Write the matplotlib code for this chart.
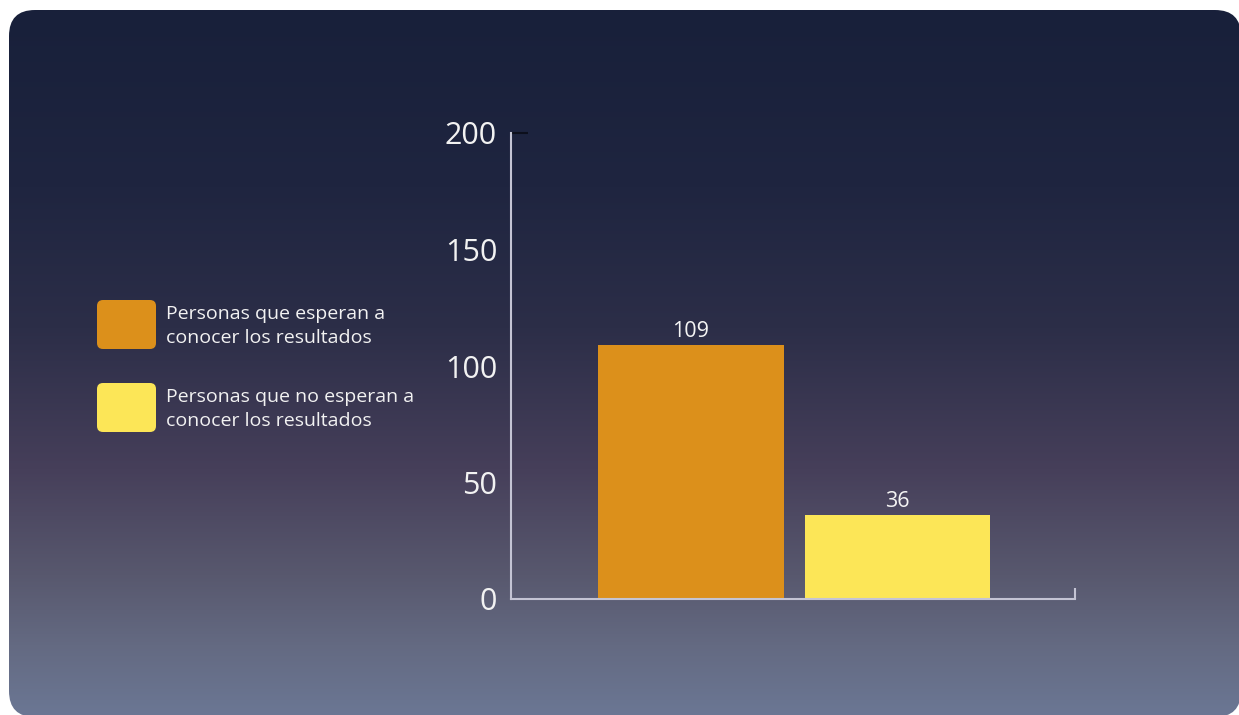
import numpy as np
import matplotlib.pyplot as plt
from matplotlib.colors import LinearSegmentedColormap
from matplotlib.patches import FancyBboxPatch

plt.rcParams['font.family'] = ['Open Sans', 'DejaVu Sans']

categories = ['Personas que esperan a\nconocer los resultados',
              'Personas que no esperan a\nconocer los resultados']
values = [109, 36]
bar_colors = ['#DC901B', '#FCE657']
y_ticks = [0, 50, 100, 150, 200]

W, H = 1239, 715
fig = plt.figure(figsize=(W / 100, H / 100), dpi=100)
fig.patch.set_facecolor('white')

# background panel with vertical gradient and rounded corners
bg = fig.add_axes([0, 0, 1, 1])
bg.set_xlim(0, W)
bg.set_ylim(H, 0)
bg.axis('off')
grad_cmap = LinearSegmentedColormap.from_list('bg', [
    (0.0, '#18203a'), (0.25, '#1f2540'), (0.45, '#2c2e48'),
    (0.65, '#463f5a'), (0.8, '#58586e'), (0.9, '#646a82'), (1.0, '#6b7794')])
grad = np.linspace(0, 1, 256).reshape(-1, 1)
img = bg.imshow(grad, cmap=grad_cmap, aspect='auto', extent=[9, W + 2, H + 2, 10])
panel = FancyBboxPatch((9, 10), W - 7, H - 8, boxstyle='round,pad=0,rounding_size=26',
                       facecolor='none', edgecolor='none', transform=bg.transData)
bg.add_patch(panel)
img.set_clip_path(panel)

# chart
ax = fig.add_axes([511 / W, 116 / H, 564 / W, 466 / H])
ax.patch.set_alpha(0)
x = np.arange(len(values))
bars = ax.bar(x, values, width=0.9, color=bar_colors, zorder=2)
ax.set_xlim(-0.872, 1.86)
ax.set_ylim(0, 200)

for b, v in zip(bars, values):
    ax.annotate(str(v), (b.get_x() + b.get_width() / 2, v), xytext=(0, 2),
                textcoords='offset points', ha='center', va='bottom',
                color='#f4f4f4', fontsize=15.5)

ax.set_yticks(y_ticks)
ax.set_yticklabels([str(t) for t in y_ticks])
ax.tick_params(axis='y', length=0, pad=10, labelsize=22, labelcolor='#f2f2f2')
ax.yaxis.remove_overlapping_locs = False
ax.set_yticks([200], minor=True)
ax.tick_params(axis='y', which='minor', direction='in', length=12, width=1.5, color='#0c0f1c')
ax.set_xticks([])
ax.set_xticks([1.86], minor=True)
ax.tick_params(axis='x', which='minor', direction='in', length=8, width=1.5, color='#c4c4d4')
for s in ['top', 'right']:
    ax.spines[s].set_visible(False)
for s in ['left', 'bottom']:
    ax.spines[s].set_color('#c4c4d4')
    ax.spines[s].set_linewidth(1.5)

# legend drawn by hand with rounded swatches
legend_tops = [300, 383]
for top, lab, col in zip(legend_tops, categories, bar_colors):
    sw = FancyBboxPatch((97, top), 59, 49, boxstyle='round,pad=0,rounding_size=6',
                        facecolor=col, edgecolor='none', transform=bg.transData)
    bg.add_patch(sw)
    bg.text(166, top + 26, lab, ha='left', va='center', color='#f2f2f2',
            fontsize=14, linespacing=1.45)

fig.savefig('out.png', dpi=100)
